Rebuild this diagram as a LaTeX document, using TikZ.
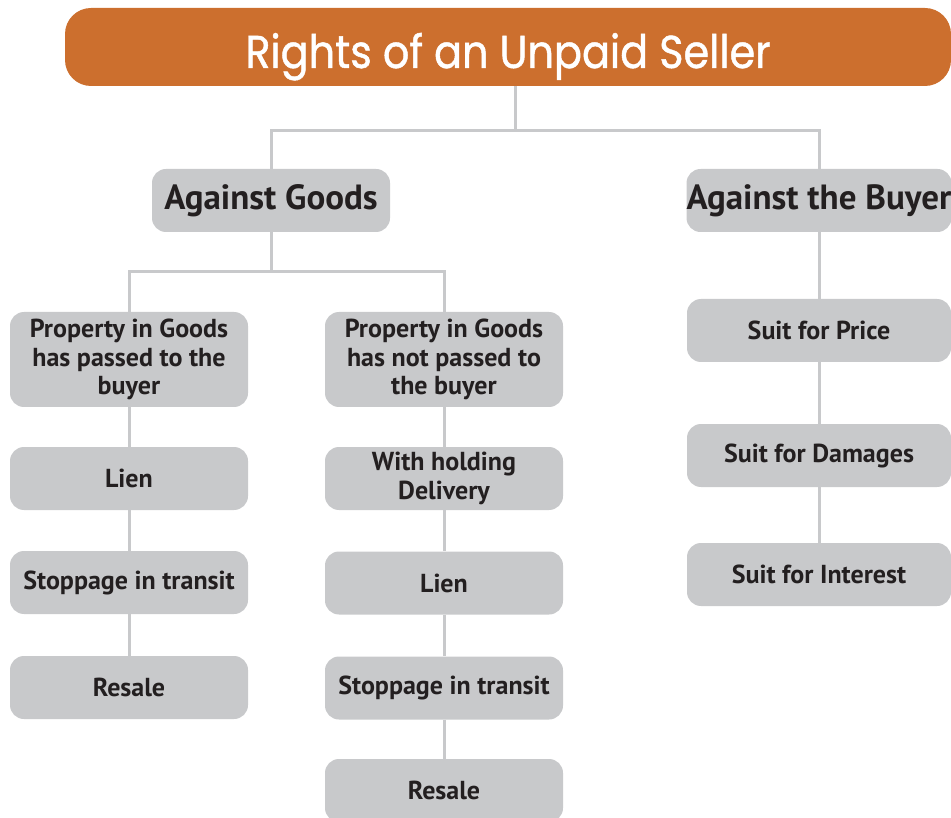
\documentclass[tikz,border=0pt]{standalone}
\usepackage{fontspec}
\setmainfont{PT Sans}
\newfontfamily\titlefont[FakeStretch=0.9, FakeBold=1]{Poppins}
\definecolor{sellerorange}{HTML}{CC6F2E}
\definecolor{boxgray}{HTML}{C8C9CB}
\definecolor{inkdark}{HTML}{231F20}

\begin{document}
\begin{tikzpicture}[x=1pt, y=-1pt,
  box/.style={fill=boxgray, rounded corners=14pt, minimum width=238pt, minimum height=63pt,
    inner sep=0pt, align=center, text=inkdark, font=\fontsize{26}{28.5}\selectfont\bfseries},
  wide/.style={box, minimum width=264pt},
  tall/.style={box, minimum height=95pt},
  head/.style={font=\fontsize{35}{38}\selectfont\bfseries},
  link/.style={draw=boxgray, line width=3pt}]

\useasboundingbox (0,0) rectangle (951,818);
\clip (0,0) rectangle (951,818);

% title
\node [fill=sellerorange, rounded corners=26pt, minimum width=886pt, minimum height=78pt,
  text height=42pt, text depth=0pt, inner sep=0pt,
  text=white, font=\titlefont\fontsize{46}{50}\selectfont] (title) at (508,47) {Rights of an Unpaid Seller};

% two branches
\node [box, head] (goods) at (271,200.5) {Against Goods};
\node [wide, head] (buyer) at (819,200.5) {Against the Buyer};

% goods, property passed
\node [tall] (passed) at (129,359.5) {Property in Goods\\has passed to the\\buyer};
\node [box] (lienA) at (129,478.5) {Lien};
\node [box] (stopA) at (129,582.5) {Stoppage in transit};
\node [box] (resaleA) at (129,687.5) {Resale};

% goods, property not passed
\node [tall] (notpassed) at (444,359.5) {Property in Goods\\has not passed to\\the buyer};
\node [box] (withhold) at (444,478.5) {With holding\\Delivery};
\node [box] (lienB) at (444,583) {Lien};
\node [box] (stopB) at (444,688) {Stoppage in transit};
\node [box] (resaleB) at (444,790.5) {Resale};

% buyer
\node [wide] (price) at (819,330.5) {Suit for Price};
\node [wide] (damages) at (819,455.5) {Suit for Damages};
\node [wide] (interest) at (819,574.5) {Suit for Interest};

% connectors
\coordinate (topbus) at (515,131);
\coordinate (goodsbus) at (271,272);
\draw [link] (title.south -| topbus) -- (topbus);
\draw [link] (goods.north) |- (topbus) -| (buyer.north);
\draw [link] (goods.south) -- (goodsbus);
\draw [link] (passed.north) |- (goodsbus) -| (notpassed.north);
\draw [link] (passed) -- (lienA) -- (stopA) -- (resaleA);
\draw [link] (notpassed) -- (withhold) -- (lienB) -- (stopB) -- (resaleB);
\draw [link] (buyer) -- (price) -- (damages) -- (interest);

\end{tikzpicture}
\end{document}
